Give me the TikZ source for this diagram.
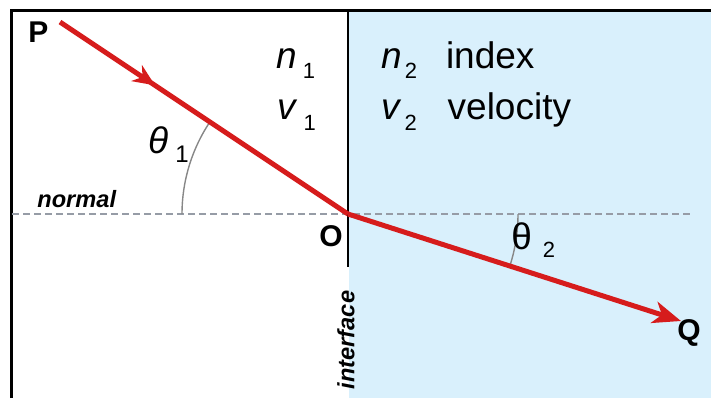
\documentclass[tikz,border=0pt]{standalone}
\usepackage{xcolor}
\usepackage{fontspec}
\setmainfont{Liberation Sans}
\usepackage{tikz}
\usetikzlibrary{arrows.meta, decorations.markings, positioning}

\definecolor{rayred}{RGB}{214,28,28}
\definecolor{mediumblue}{RGB}{217,240,252}
\definecolor{normalgray}{RGB}{150,156,166}
\definecolor{arcgray}{RGB}{135,135,135}

\newcommand{\lowsub}[4]{\hspace{#2}\raisebox{-#3}{\fontsize{#1}{#1}\selectfont #4}}

\begin{document}
\begin{tikzpicture}[x=0.5pt, y=-0.5pt,
            region/.style={fill=mediumblue, draw=none},
            frame/.style={draw=black, line width=1.5pt},
            wall/.style={draw=black, line width=1.2pt},
            normalline/.style={draw=normalgray, line width=0.9pt, dash pattern=on 3.5pt off 2pt},
            anglearc/.style={draw=arcgray, line width=0.7pt},
            ray/.style={draw=rayred, line width=2.5pt},
            midarrow/.style={postaction={decorate, decoration={markings, mark=at position #1 with {\arrow[rayred]{Stealth[length=11pt,width=9.5pt,inset=3.5pt]}}}}},
            lbl/.style={inner sep=0pt, anchor=base west, font=\fontsize{18.5}{20}\selectfont},
            tag/.style={inner sep=0pt, anchor=base west, font=\bfseries\fontsize{15}{16}\selectfont},
            side/.style={inner sep=0pt, font=\bfseries\itshape\fontsize{11.8}{13}\selectfont}]

            \useasboundingbox (0,0) rectangle (711,398);

            % Media
            \fill[region] (349,11) rectangle (711,398);
            \draw[frame] (11,398) -- (11,10) -- (711,10);
            \draw[normalline] (12,214) -- (690,214);
            \draw[wall] (348,11) -- (348,267);

            % Points
            \coordinate (src) at (60,22);
            \coordinate (hit) at (348,214);
            \coordinate (dst) at (681,321);

            % Angles
            \draw[anglearc] ([xshift=-83pt]hit) arc[start angle=180, end angle=146.3, radius=83pt];
            \draw[anglearc] ([xshift=85pt]hit) arc[start angle=0, end angle=-17.8, radius=85pt];

            % Rays
            \draw[ray, midarrow=0.33] (src) -- (hit);
            \draw[ray, -{Stealth[length=14pt,width=11pt,inset=4pt]}] (hit) -- (dst);

            % Labels
            \node[tag] (P) at (28,42) {P};
            \node[tag] (O) at (319,246) {O};
            \node[tag] (Q) at (677,340) {Q};
            \node[side, anchor=base west] (normal) at (37,207) {normal};
            \node[side, rotate=90] (iface) at (346,340) {interface};
            \node[lbl] (t1) at (148,153) {\textit{θ}\lowsub{12pt}{3.5pt}{4.5pt}{1}};
            \node[lbl] (t2) at (511,249) {θ\lowsub{11pt}{5.5pt}{4pt}{2}};
            \node[lbl] (n1) at (276,68) {\textit{n}\lowsub{11pt}{3pt}{5pt}{1}};
            \node[lbl] (v1) at (277,119) {\textit{v}\lowsub{11pt}{3pt}{5.5pt}{1}};
            \node[lbl] (n2) at (381,68) {\textit{n}\lowsub{11pt}{1.5pt}{5pt}{2}};
            \node[lbl] (v2) at (381,119) {\textit{v}\lowsub{11pt}{1.5pt}{5.5pt}{2}};
            \node[lbl, base right=14pt of n2] (index) {index};
            \node[lbl, base right=15pt of v2] (velocity) {velocity};
        \end{tikzpicture}
\end{document}
